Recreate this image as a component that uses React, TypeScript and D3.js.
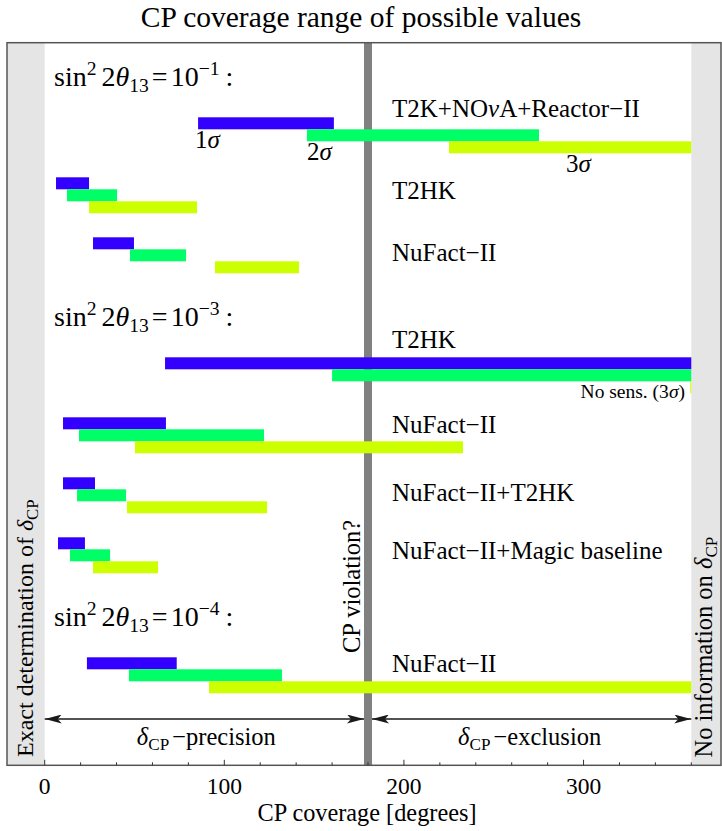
import React, { useEffect, useRef } from 'react';
import * as d3 from 'd3';

// experiments, top to bottom, and the slot (row) each one sits in
const experiments = [
  'T2K+NOνA+Reactor−II',
  'T2HK',
  'NuFact−II',
  'T2HK',
  'NuFact−II',
  'NuFact−II+T2HK',
  'NuFact−II+Magic baseline',
  'NuFact−II',
];
const rowSlot = [0, 1, 2, 4, 5, 6, 7, 9];

// CP coverage ranges [from, to] in degrees
const sigma1 = [[85.4, 161], [6.3, 24.7], [26.9, 49.7], [67, 360], [10.2, 67.5], [10.2, 28], [7.4, 22.4], [23.5, 73.5]];
const sigma2 = [[146, 275.2], [12.4, 40.3], [47.5, 78.7], [160, 360], [19.1, 122.1], [18, 45.3], [14.1, 36.4], [46.9, 132.1]];
const sigma3 = [[225.1, 360], [24.7, 84.8], [94.8, 141.6], [359.4, 360], [50.3, 232.9], [45.8, 123.8], [26.9, 63.1], [91.5, 360]];

// theta13 headings
const thetaSlots = [-1, 3, 8];
const thetaExponents = ['−1', '−3', '−4'];

const majorTicks = [0, 100, 200, 300];
const minorTicks = d3.range(0, 361, 20);

const sigmaColors = ['#3300ff', '#00ff66', '#ccff00'];
// label baseline offset from the row top, px
const labelOffset = [0, 22, 24, -9, 16, 24, 22, 15];

const FONT = '"Liberation Serif", "Times New Roman", serif';

type Part = { t: string; i?: boolean; sub?: boolean; sup?: boolean; dx?: number };

function rich(sel: any, parts: Part[], size: number) {
  let cur = 0;
  parts.forEach((p) => {
    const target = p.sub ? size * 0.22 : p.sup ? -size * 0.4 : 0;
    const ts = sel
      .append('tspan')
      .attr('dy', target - cur)
      .attr('font-size', p.sub || p.sup ? size * 0.7 : size)
      .text(p.t);
    if (p.i) ts.attr('font-style', 'italic');
    if (p.dx) ts.attr('dx', p.dx);
    cur = target;
  });
}

const App = () => {
  const svgRef = useRef(null);

  useEffect(() => {
    const W = 722;
    const H = 831;
    const frame = { left: 7, right: 721, top: 42.7, bottom: 765.3 };

    const svg = d3.select(svgRef.current).attr('width', W).attr('height', H);
    svg.selectAll('*').remove();

    const x = d3.scaleLinear().domain([0, 360]).range([44.7, 691.3]);
    const y = d3.scaleLinear().domain([0, 9]).range([117.3, 657.3]);
    const barH = 12;

    // gray side bands
    svg.append('rect').attr('x', frame.left).attr('y', frame.top)
      .attr('width', x(0) - frame.left).attr('height', frame.bottom - frame.top).attr('fill', '#e5e5e5');
    svg.append('rect').attr('x', x(360)).attr('y', frame.top)
      .attr('width', frame.right - x(360)).attr('height', frame.bottom - frame.top).attr('fill', '#e5e5e5');

    // CP violation line
    svg.append('rect').attr('x', x(180) - 4).attr('y', frame.top)
      .attr('width', 8).attr('height', frame.bottom - frame.top).attr('fill', '#808080');

    // bars
    [sigma1, sigma2, sigma3].forEach((ranges, k) => {
      svg.append('g').selectAll('rect').data(ranges).enter().append('rect')
        .attr('x', (d) => x(d[0]))
        .attr('width', (d) => Math.max(1, x(d[1]) - x(d[0])))
        .attr('y', (d, i) => y(rowSlot[i]) + k * barH)
        .attr('height', barH)
        .attr('fill', sigmaColors[k]);
    });

    // experiment labels
    svg.append('g').selectAll('text').data(experiments).enter().append('text')
      .attr('x', 392)
      .attr('y', (d, i) => y(rowSlot[i]) + labelOffset[i])
      .attr('font-family', FONT).attr('font-size', 25).attr('fill', '#000')
      .each(function (d) {
        const sel = d3.select(this);
        if (d.includes('ν')) {
          const [a, b] = d.split('ν');
          rich(sel, [{ t: a }, { t: 'ν', i: true }, { t: b }], 25);
        } else sel.text(d);
      });

    // sigma labels on the first row
    const sig = [
      { t: '1', x: 195, y: 148 },
      { t: '2', x: 307, y: 159.5 },
      { t: '3', x: 566, y: 172 },
    ];
    sig.forEach((s) => {
      const t = svg.append('text').attr('x', s.x).attr('y', s.y)
        .attr('font-family', FONT).attr('font-size', 25);
      rich(t, [{ t: s.t }, { t: 'σ', i: true }], 25);
    });

    // no sensitivity note
    svg.append('text').attr('x', 685).attr('y', 397.5).attr('text-anchor', 'end')
      .attr('font-family', FONT).attr('font-size', 19.5)
      .call((t) => rich(t, [{ t: 'No sens. (3' }, { t: 'σ', i: true }, { t: ')' }], 19.5));

    // theta13 headings
    thetaSlots.forEach((s, i) => {
      const t = svg.append('text').attr('x', 54).attr('y', y(s) + 29)
        .attr('font-family', FONT).attr('font-size', 28);
      rich(t, [
        { t: 'sin' }, { t: '2', sup: true }, { t: '2', dx: 5 }, { t: 'θ', i: true }, { t: '13', sub: true },
        { t: '=', dx: 3 }, { t: '10', dx: 3 }, { t: thetaExponents[i], sup: true }, { t: ':', dx: 6 },
      ], 28);
    });

    // arrows
    const defs = svg.append('defs');
    defs.append('marker').attr('id', 'ah').attr('viewBox', '0 0 17 9').attr('refX', 17).attr('refY', 4.5)
      .attr('markerWidth', 17).attr('markerHeight', 9).attr('markerUnits', 'userSpaceOnUse')
      .attr('orient', 'auto-start-reverse')
      .append('path').attr('d', 'M0,0 L17,4.5 L0,9 L4,4.5 Z').attr('fill', '#1a1a1a');
    const ay = 719;
    [[x(0), x(180) - 4], [x(180) + 4, x(360)]].forEach(([a, b]) => {
      svg.append('line').attr('x1', a).attr('x2', b).attr('y1', ay).attr('y2', ay)
        .attr('stroke', '#1a1a1a').attr('stroke-width', 1.4)
        .attr('marker-start', 'url(#ah)').attr('marker-end', 'url(#ah)');
    });
    const arrowLabels = [
      { at: 90, t: 'precision' },
      { at: 270, t: 'exclusion' },
    ];
    arrowLabels.forEach((a) => {
      const t = svg.append('text').attr('x', x(a.at)).attr('y', 745).attr('text-anchor', 'middle')
        .attr('font-family', FONT).attr('font-size', 24.5);
      rich(t, [{ t: 'δ', i: true }, { t: 'CP', sub: true }, { t: '−' + a.t, dx: 3 }], 24.5);
    });

    // vertical texts
    const vtext = (vx: number, vy: number, parts: Part[], size: number) => {
      const t = svg.append('text').attr('transform', `translate(${vx},${vy}) rotate(-90)`)
        .attr('font-family', FONT).attr('font-size', size);
      rich(t, parts, size);
    };
    vtext(33, 757, [{ t: 'Exact determination of ' }, { t: 'δ', i: true }, { t: 'CP', sub: true }], 24);
    vtext(712, 757.5, [{ t: 'No information on ' }, { t: 'δ', i: true }, { t: 'CP', sub: true }], 24.5);
    vtext(360, 653, [{ t: 'CP violation?' }], 24.5);

    // frame
    svg.append('rect').attr('x', frame.left).attr('y', frame.top)
      .attr('width', frame.right - frame.left).attr('height', frame.bottom - frame.top)
      .attr('fill', 'none').attr('stroke', '#555').attr('stroke-width', 1.5);

    // bottom ticks (inward)
    svg.append('g').selectAll('line').data(minorTicks).enter().append('line')
      .attr('x1', (d) => x(d)).attr('x2', (d) => x(d))
      .attr('y1', frame.bottom).attr('y2', (d) => frame.bottom - (d % 100 === 0 ? 5.5 : 3))
      .attr('stroke', '#333').attr('stroke-width', 1);
    svg.append('g').selectAll('text').data(majorTicks).enter().append('text')
      .attr('x', (d) => x(d)).attr('y', 794).attr('text-anchor', 'middle')
      .attr('font-family', FONT).attr('font-size', 23.5).text((d) => d);

    svg.append('text').attr('x', 367).attr('y', 821).attr('text-anchor', 'middle')
      .attr('font-family', FONT).attr('font-size', 24.3).text('CP coverage [degrees]');

    // title
    svg.append('text').attr('x', 361).attr('y', 27).attr('text-anchor', 'middle')
      .attr('font-family', FONT).attr('font-size', 29.5).text('CP coverage range of possible values');
  }, []);

  return (
    <div style={{ position: 'absolute', left: 0, top: 0 }}>
      <svg ref={svgRef} style={{ display: 'block' }}></svg>
    </div>
  );
};

export default App;
